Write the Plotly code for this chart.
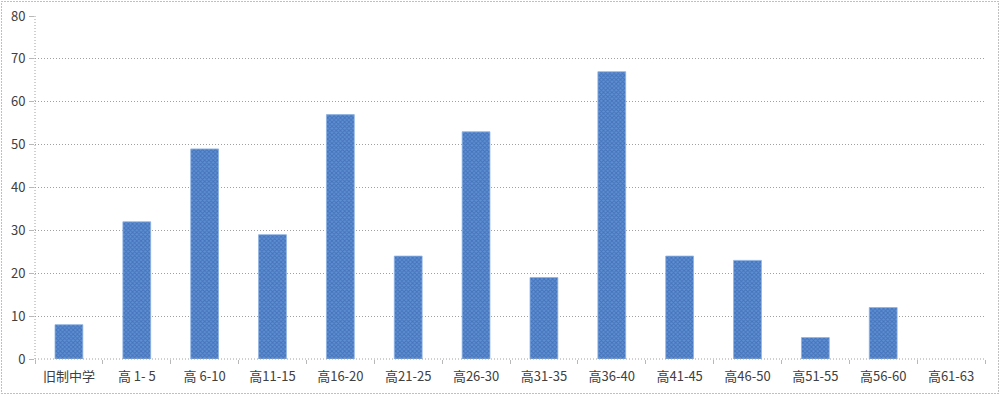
import plotly.graph_objects as go

categories = ["旧制中学", "高 1- 5", "高 6-10", "高11-15", "高16-20", "高21-25", "高26-30",
              "高31-35", "高36-40", "高41-45", "高46-50", "高51-55", "高56-60", "高61-63"]
values = [8, 32, 49, 29, 57, 24, 53, 19, 67, 24, 23, 5, 12, 0]
y_ticks = [0, 10, 20, 30, 40, 50, 60, 70, 80]

W, H = 1000, 395
L, R, T, B = 35, 15, 16, 36
pw, ph = W - L - R, H - T - B

fig = go.Figure(go.Bar(
    x=categories, y=values, width=0.41,
    marker=dict(color="#4A7CC2",
                line=dict(width=[0.8 if v > 0 else 0 for v in values], color="#8DB3E2"),
                pattern=dict(shape="x", size=3, solidity=0.55,
                             fgcolor="#2A55A0", bgcolor="#6090D4")),
))

grey = "#A0A0A0"
fnt = "Noto Sans CJK JP, Liberation Sans, sans-serif"
fig.update_layout(
    width=W, height=H,
    margin=dict(l=L, r=R, t=T, b=B),
    paper_bgcolor="white", plot_bgcolor="white",
    showlegend=False,
    font=dict(family=fnt, size=13, color="#404040"),
    xaxis=dict(type="category", showgrid=False, showline=False, ticks="outside",
               tickson="boundaries", ticklen=4, tickcolor="#B8B8B8",
               tickfont=dict(size=13, family=fnt), ticklabelstandoff=8,
               range=[-0.5, 13.5], automargin=False),
    yaxis=dict(range=[0, 80], tickvals=y_ticks, showgrid=True, gridcolor=grey, griddash="1px,2px",
               gridwidth=1, zeroline=False, showline=False, ticks="outside", ticklen=5,
               tickcolor="#B8B8B8", tickfont=dict(size=13, family=fnt), ticklabelstandoff=1,
               automargin=False),
    shapes=[
        dict(type="line", xref="paper", yref="paper", x0=0, x1=0, y0=0, y1=1,
             line=dict(color=grey, width=1, dash="1px,2px")),
        dict(type="line", xref="paper", yref="paper", x0=0, x1=1, y0=0, y1=0,
             line=dict(color=grey, width=1, dash="1px,2px")),
        dict(type="rect", xref="paper", yref="paper",
             x0=(1.5 - L) / pw, x1=(998.5 - L) / pw,
             y0=-(393.5 - (H - B)) / ph, y1=1 + (T - 1.5) / ph,
             line=dict(color="#808080", width=1, dash="1px,2px")),
    ],
)

fig.write_html("out.html")
